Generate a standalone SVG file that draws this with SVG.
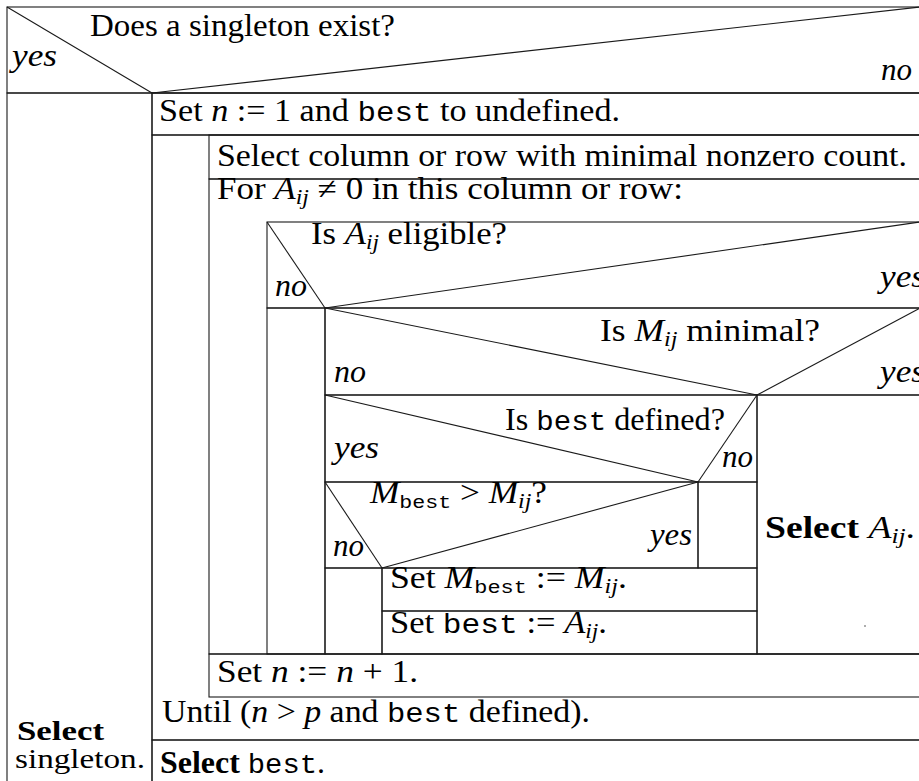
<svg xmlns="http://www.w3.org/2000/svg" width="919" height="781" viewBox="0 0 919 781">
<style>
.ln{fill:none;stroke:#1a1a1a;stroke-width:1.1}
.t{font-family:"Liberation Serif",serif;font-size:31px;fill:#000}
.i{font-style:italic}
.b{font-weight:bold}
.m{font-family:"Liberation Mono",monospace;font-size:28px}
.s{font-size:21px}
.sm{font-family:"Liberation Mono",monospace;font-size:19px}
.c{font-size:28px}
</style>
<rect width="919" height="781" fill="#fff"/>
<g id="connectors" class="ln">
  <line x1="152" y1="93" x2="920" y2="93"/>
</g>
<g id="if_singleton">
  <rect class="ln" x="7" y="7" width="913" height="86"/>
  <line class="ln" x1="7" y1="7" x2="152" y2="93"/>
  <line class="ln" x1="152" y1="93" x2="920" y2="7"/>
  <text class="t" x="90" y="36" textLength="305" lengthAdjust="spacingAndGlyphs">Does a singleton exist?</text>
  <text class="t i" x="12" y="66" textLength="45" lengthAdjust="spacingAndGlyphs">yes</text>
  <text class="t i" x="881" y="80" textLength="31" lengthAdjust="spacingAndGlyphs">no</text>
</g>
<g id="select_singleton">
  <rect class="ln" x="7" y="93" width="145" height="690"/>
  <text class="t b c" x="17" y="740" textLength="87" lengthAdjust="spacingAndGlyphs">Select</text>
  <text class="t c" x="15" y="768" textLength="130" lengthAdjust="spacingAndGlyphs">singleton.</text>
</g>
<g id="set_n1">
  <rect class="ln" x="152" y="93" width="768" height="42"/>
  <text class="t" x="159" y="121" textLength="461" lengthAdjust="spacingAndGlyphs">Set <tspan class="i">n</tspan> := 1 and <tspan class="m">best</tspan> to undefined.</text>
</g>
<g id="repeat_loop">
  <rect class="ln" x="152" y="135" width="768" height="605"/>
</g>
<g id="select_column">
  <rect class="ln" x="209" y="135" width="711" height="44"/>
  <text class="t" x="217" y="166" textLength="690" lengthAdjust="spacingAndGlyphs">Select column or row with minimal nonzero count.</text>
</g>
<g id="for_loop">
  <rect class="ln" x="209" y="179" width="711" height="475"/>
  <text class="t" x="217" y="199" textLength="466" lengthAdjust="spacingAndGlyphs">For <tspan class="i">A</tspan><tspan class="s i" dy="5">ij</tspan><tspan dy="-5"> ≠ 0 in this column or row:</tspan></text>
</g>
<g id="if_eligible">
  <rect class="ln" x="267" y="222" width="653" height="86"/>
  <line class="ln" x1="267" y1="222" x2="325" y2="308"/>
  <line class="ln" x1="325" y1="308" x2="920" y2="222"/>
  <text class="t" x="311" y="244" textLength="196" lengthAdjust="spacingAndGlyphs">Is <tspan class="i">A</tspan><tspan class="s i" dy="5">ij</tspan><tspan dy="-5"> eligible?</tspan></text>
  <text class="t i" x="275" y="296" textLength="32" lengthAdjust="spacingAndGlyphs">no</text>
  <text class="t i" x="880" y="287" textLength="45" lengthAdjust="spacingAndGlyphs">yes</text>
</g>
<g id="eligible_no">
  <rect class="ln" x="267" y="308" width="58" height="346"/>
</g>
<g id="if_minimal">
  <rect class="ln" x="325" y="308" width="595" height="87"/>
  <line class="ln" x1="325" y1="308" x2="757" y2="395"/>
  <line class="ln" x1="757" y1="395" x2="920" y2="308"/>
  <text class="t" x="600" y="341" textLength="220" lengthAdjust="spacingAndGlyphs">Is <tspan class="i">M</tspan><tspan class="s i" dy="5">ij</tspan><tspan dy="-5"> minimal?</tspan></text>
  <text class="t i" x="334" y="382" textLength="32" lengthAdjust="spacingAndGlyphs">no</text>
  <text class="t i" x="880" y="382" textLength="45" lengthAdjust="spacingAndGlyphs">yes</text>
</g>
<g id="select_aij">
  <rect class="ln" x="757" y="395" width="163" height="259"/>
  <text class="t" x="765" y="538" textLength="150" lengthAdjust="spacingAndGlyphs"><tspan class="b">Select </tspan><tspan class="i">A</tspan><tspan class="s i" dy="5">ij</tspan><tspan dy="-5">.</tspan></text>
  <circle cx="865" cy="626" r="0.8" fill="#444"/>
</g>
<g id="if_best_defined">
  <rect class="ln" x="325" y="395" width="432" height="87"/>
  <line class="ln" x1="325" y1="395" x2="698" y2="482"/>
  <line class="ln" x1="698" y1="482" x2="757" y2="395"/>
  <text class="t" x="505" y="430" textLength="220" lengthAdjust="spacingAndGlyphs">Is <tspan class="m">best</tspan> defined?</text>
  <text class="t i" x="334" y="458" textLength="45" lengthAdjust="spacingAndGlyphs">yes</text>
  <text class="t i" x="722" y="467" textLength="31" lengthAdjust="spacingAndGlyphs">no</text>
</g>
<g id="best_defined_no">
  <rect class="ln" x="698" y="482" width="59" height="86"/>
</g>
<g id="if_mbest">
  <rect class="ln" x="325" y="482" width="373" height="86"/>
  <line class="ln" x1="325" y1="482" x2="382" y2="568"/>
  <line class="ln" x1="382" y1="568" x2="698" y2="482"/>
  <text class="t" x="370" y="503" textLength="177" lengthAdjust="spacingAndGlyphs"><tspan class="i">M</tspan><tspan class="sm" dy="5">best</tspan><tspan dy="-5"> &gt; </tspan><tspan class="i">M</tspan><tspan class="s i" dy="5">ij</tspan><tspan dy="-5">?</tspan></text>
  <text class="t i" x="650" y="545" textLength="42" lengthAdjust="spacingAndGlyphs">yes</text>
  <text class="t i" x="333" y="556" textLength="31" lengthAdjust="spacingAndGlyphs">no</text>
</g>
<g id="mbest_no">
  <rect class="ln" x="325" y="568" width="57" height="86"/>
</g>
<g id="set_mbest">
  <rect class="ln" x="382" y="568" width="375" height="43"/>
  <text class="t" x="390" y="588" textLength="237" lengthAdjust="spacingAndGlyphs">Set <tspan class="i">M</tspan><tspan class="sm" dy="5">best</tspan><tspan dy="-5"> := </tspan><tspan class="i">M</tspan><tspan class="s i" dy="5">ij</tspan><tspan dy="-5">.</tspan></text>
</g>
<g id="set_best">
  <rect class="ln" x="382" y="611" width="375" height="43"/>
  <text class="t" x="390" y="633" textLength="217" lengthAdjust="spacingAndGlyphs">Set <tspan class="m">best</tspan> := <tspan class="i">A</tspan><tspan class="s i" dy="5">ij</tspan><tspan dy="-5">.</tspan></text>
</g>
<g id="set_n_inc">
  <rect class="ln" x="209" y="654" width="711" height="43"/>
  <text class="t" x="217" y="682" textLength="201" lengthAdjust="spacingAndGlyphs">Set <tspan class="i">n</tspan> := <tspan class="i">n</tspan> + 1.</text>
</g>
<g id="until">
  <text class="t" x="162" y="722" textLength="428" lengthAdjust="spacingAndGlyphs">Until (<tspan class="i">n</tspan> &gt; <tspan class="i">p</tspan> and <tspan class="m">best</tspan> defined).</text>
</g>
<g id="select_best">
  <rect class="ln" x="152" y="740" width="768" height="43"/>
  <text class="t" x="160" y="773" textLength="165" lengthAdjust="spacingAndGlyphs"><tspan class="b">Select </tspan><tspan class="m">best</tspan>.</text>
</g>
</svg>
